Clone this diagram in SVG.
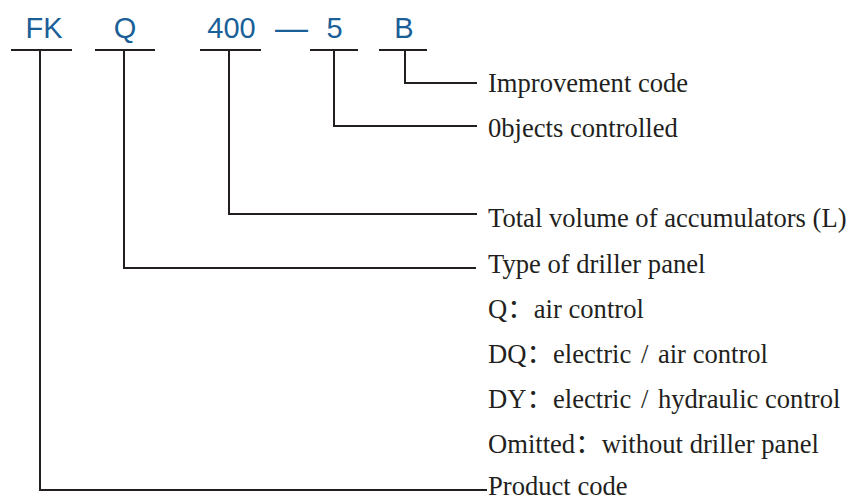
<svg xmlns="http://www.w3.org/2000/svg" width="849" height="501" viewBox="0 0 849 501">
  <style>
    .code { font-family: "Liberation Sans", Arial, sans-serif; font-size: 29px; fill: #1a5f98; text-anchor: middle; }
    .lbl { font-family: "Liberation Serif", "Noto Sans CJK SC", serif; font-size: 26.6px; fill: #231f20; }
    .ln { stroke: #231f20; stroke-width: 2; fill: none; }
  </style>
  <rect width="849" height="501" fill="#ffffff"/>
  <g id="code-FK">
    <text class="code" x="44" y="38">FK</text>
    <line class="ln" x1="11" y1="50" x2="72" y2="50"/>
  </g>
  <g id="code-Q">
    <text class="code" x="125" y="38">Q</text>
    <line class="ln" x1="95" y1="50" x2="155" y2="50"/>
  </g>
  <g id="code-400">
    <text class="code" x="231.5" y="38">400</text>
    <line class="ln" x1="200" y1="50" x2="261" y2="50"/>
  </g>
  <g id="code-dash">
    <text class="code" x="291.5" y="39" style="font-size:33px">—</text>
  </g>
  <g id="code-5">
    <text class="code" x="334.5" y="38">5</text>
    <line class="ln" x1="310" y1="50" x2="358" y2="50"/>
  </g>
  <g id="code-B">
    <text class="code" x="404" y="38">B</text>
    <line class="ln" x1="379" y1="50" x2="427" y2="50"/>
  </g>
  <g id="connectors">
    <polyline class="ln" points="405,50 405,83 477,83"/>
    <polyline class="ln" points="334,50 334,126 477,126"/>
    <polyline class="ln" points="229,50 229,214 477,214"/>
    <polyline class="ln" points="124,50 124,268 476,268"/>
    <polyline class="ln" points="40,50 40,490 487,490"/>
  </g>
  <g id="label-improvement"><text class="lbl" x="488" y="91.5">Improvement code</text></g>
  <g id="label-objects"><text class="lbl" x="488" y="136.5">0bjects controlled</text></g>
  <g id="label-volume"><text class="lbl" x="488" y="226.5">Total volume of accumulators (L)</text></g>
  <g id="label-panel">
    <text class="lbl" x="488" y="272.5">Type of driller panel</text>
    <text class="lbl" x="488" y="317.5">Q：air control</text>
    <text class="lbl" x="488" y="362.5">DQ：electric <tspan dx="3">/</tspan><tspan dx="3"> air control</tspan></text>
    <text class="lbl" x="488" y="407.5">DY：electric <tspan dx="3">/</tspan><tspan dx="3"> hydraulic control</tspan></text>
    <text class="lbl" x="488" y="452.5">Omitted：without driller panel</text>
  </g>
  <g id="label-product"><text class="lbl" x="488" y="495">Product code</text></g>
</svg>
